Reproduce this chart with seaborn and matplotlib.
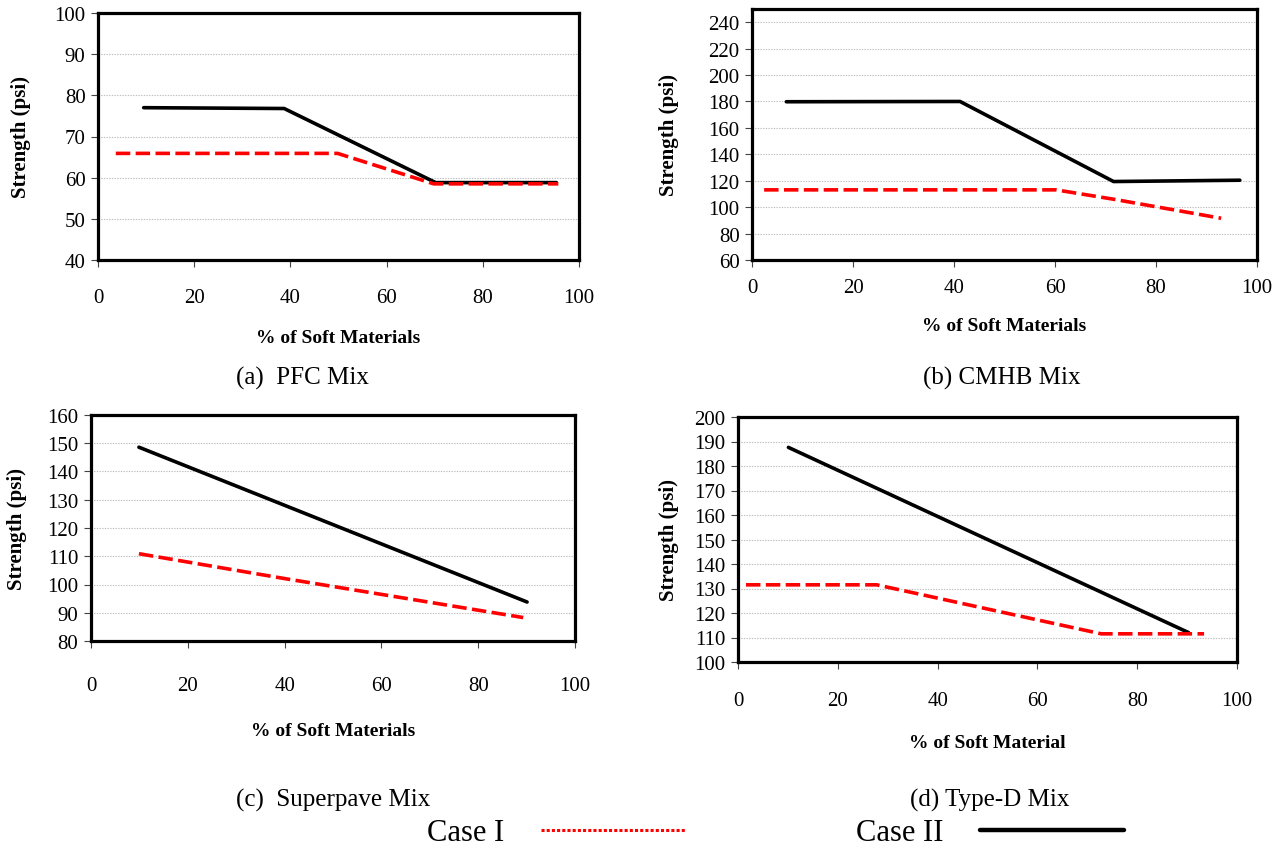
import matplotlib
matplotlib.use("Agg")
import matplotlib.pyplot as plt
import seaborn as sns
import pandas as pd
from matplotlib.lines import Line2D

# ---------------- data ----------------
pfc_case1_x = [3.7, 49.8, 69.8, 95.7]
pfc_case1_y = [65.9, 65.9, 58.5, 58.5]
pfc_case2_x = [9.5, 38.7, 70.2, 95.3]
pfc_case2_y = [77.0, 76.8, 58.8, 58.8]

cmhb_case1_x = [2.4, 60.2, 71.6, 92.9]
cmhb_case1_y = [113.1, 113.1, 106.0, 91.6]
cmhb_case2_x = [6.8, 41.2, 71.6, 96.6]
cmhb_case2_y = [179.8, 180.0, 119.4, 120.4]

sp_case1_x = [9.9, 40.0, 89.3]
sp_case1_y = [110.9, 102.1, 88.3]
sp_case2_x = [9.9, 90.1]
sp_case2_y = [148.6, 93.8]

td_case1_x = [1.6, 27.8, 72.8, 93.4]
td_case1_y = [131.5, 131.5, 111.5, 111.5]
td_case2_x = [10.1, 90.3]
td_case2_y = [187.6, 112.0]

case_labels = ["Case I", "Case II"]
x_ticks = [0, 20, 40, 60, 80, 100]
captions = ["(a)  PFC Mix", "(b) CMHB Mix", "(c)  Superpave Mix", "(d) Type-D Mix"]
x_labels = ["% of Soft Materials", "% of Soft Materials", "% of Soft Materials", "% of Soft Material"]
y_label = "Strength (psi)"

# ---------------- style ----------------
sns.set_theme(style="white")
plt.rcParams["font.family"] = ["Liberation Serif", "DejaVu Serif"]
plt.rcParams["text.color"] = "black"
plt.rcParams["axes.labelcolor"] = "black"
plt.rcParams["xtick.color"] = "black"
plt.rcParams["ytick.color"] = "black"

RED = "#ff0000"
BLACK = "#000000"

fig = plt.figure(figsize=(12.79, 8.54), dpi=100)

W, H = 1279.0, 854.0


def ax_px(left, right, top, bottom):
    return fig.add_axes([left / W, 1 - bottom / H, (right - left) / W, (bottom - top) / H])


panels = [
    dict(box=(98, 579, 14, 261), ylim=(40, 100), yt=list(range(40, 101, 10)),
         c1=(pfc_case1_x, pfc_case1_y), c2=(pfc_case2_x, pfc_case2_y),
         tickpad=15, xlab_y=330, ylab_r=31, cap=(302, 378)),
    dict(box=(752, 1257, 10, 261), ylim=(60, 250), yt=list(range(60, 241, 20)),
         c1=(cmhb_case1_x, cmhb_case1_y), c2=(cmhb_case2_x, cmhb_case2_y),
         tickpad=8, xlab_y=318, ylab_r=679, cap=(1002, 378)),
    dict(box=(91, 575, 416, 642), ylim=(80, 160), yt=list(range(80, 161, 10)),
         c1=(sp_case1_x, sp_case1_y), c2=(sp_case2_x, sp_case2_y),
         tickpad=20, xlab_y=723, ylab_r=27, cap=(333, 800)),
    dict(box=(738, 1237, 418, 663), ylim=(100, 200), yt=list(range(100, 201, 10)),
         c1=(td_case1_x, td_case1_y), c2=(td_case2_x, td_case2_y),
         tickpad=16, xlab_y=735, ylab_r=679, cap=(990, 800)),
]

for i, p in enumerate(panels):
    l, r, t, b = p["box"]
    ax = ax_px(l, r, t, b)
    df = pd.concat([
        pd.DataFrame({"x": p["c2"][0], "y": p["c2"][1], "Case": case_labels[1]}),
        pd.DataFrame({"x": p["c1"][0], "y": p["c1"][1], "Case": case_labels[0]}),
    ], ignore_index=True)
    sns.lineplot(data=df, x="x", y="y", hue="Case", style="Case",
                 palette={case_labels[0]: RED, case_labels[1]: BLACK},
                 dashes={case_labels[0]: (4.0, 1.5), case_labels[1]: ""},
                 hue_order=[case_labels[1], case_labels[0]],
                 estimator=None, sort=False, linewidth=2.6, ax=ax, legend=False)
    ax.set_xlim(0, 100)
    ax.set_ylim(*p["ylim"])
    ax.set_xticks(x_ticks)
    ax.set_yticks(p["yt"])
    ax.yaxis.grid(True, color="#bdbdbd", linestyle=(0, (1.2, 1.2)), linewidth=0.8)
    ax.xaxis.grid(False)
    ax.set_axisbelow(True)
    for s in ax.spines.values():
        s.set_visible(True)
        s.set_color("black")
        s.set_linewidth(2.3)
    ax.tick_params(axis="both", direction="out", length=5, width=0.8, color="#444444",
                   labelsize=15, labelcolor="black")
    ax.tick_params(axis="x", pad=p["tickpad"])
    ax.tick_params(axis="y", pad=4)
    ax.tick_params(bottom=True, left=True)
    ax.set_ylabel(y_label, fontsize=15, fontweight="bold", color="black")
    ax.yaxis.set_label_coords((p["ylab_r"] - l) / (r - l), 0.5)
    ax.set_xlabel(x_labels[i], fontsize=14, fontweight="bold", color="black")
    ax.xaxis.set_label_coords(0.5, -(p["xlab_y"] - b) / (b - t))
    cx, cy = p["cap"]
    fig.text(cx / W, 1 - cy / H, captions[i], fontsize=18, ha="center", va="center",
             color="black")

# legend (Case I red dotted, Case II black solid)
handles = [Line2D([], [], color=RED, linewidth=2.2, linestyle=(0, (1, 0.7))),
           Line2D([], [], color=BLACK, linewidth=3.2)]
leg = fig.legend(handles, case_labels, loc="center", bbox_to_anchor=(775.5 / W, 1 - 834 / H),
                 ncol=2, frameon=False, markerfirst=False, fontsize=22,
                 handlelength=4.7, handletextpad=1.2, columnspacing=5.6)
for txt in leg.get_texts():
    txt.set_color("black")

fig.savefig("out.png", dpi=100)
